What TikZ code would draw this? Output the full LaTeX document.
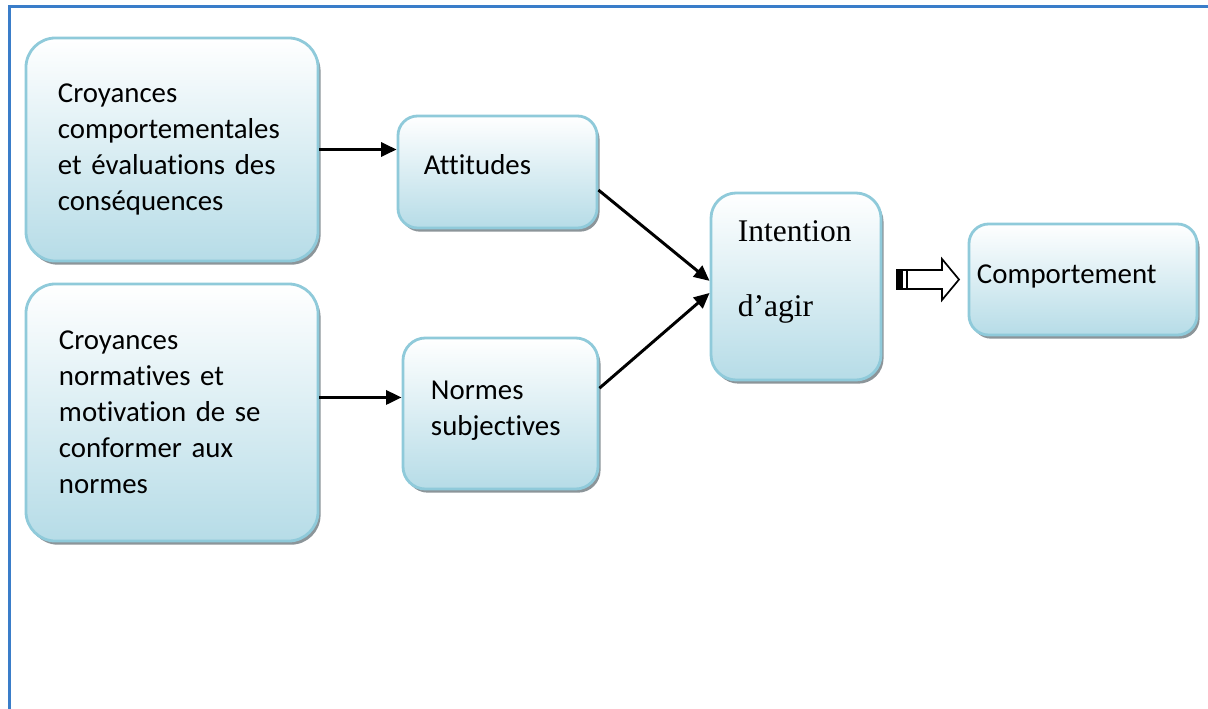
\documentclass[tikz,border=0pt]{standalone}
\usepackage{fontspec}
\setmainfont{Carlito}[Ligatures=CommonOff]
\newfontfamily\timesfont{Liberation Serif}
\usepackage{tikz}
\usetikzlibrary{positioning,arrows.meta,shadows}
\definecolor{boxline}{HTML}{8FCADA}
\definecolor{boxfill}{HTML}{B6DCE7}
\definecolor{framecol}{HTML}{3A7DC9}
\definecolor{shadowcol}{HTML}{6F7A80}

\begin{document}
\begin{tikzpicture}[x=0.025cm,y=-0.025cm,>={Triangle[length=11pt,width=10pt]},
      line width=2.1pt,
      block/.style={rectangle, draw=boxline, line width=2pt, top color=white, bottom color=boxfill,
      align=left, inner xsep=0pt, font=\fontsize{20.5}{25.6}\selectfont,
      drop shadow={shadow xshift=1.8pt, shadow yshift=-2.6pt, fill=shadowcol, opacity=0.8}}]

    \useasboundingbox (0,0) rectangle (1208,709);
    \draw[framecol, line width=2.2pt] (1230,6.5) -- (9.5,6.5) -- (9.5,730);

    \node[block, rounded corners=21pt, minimum width=7.3cm, minimum height=5.575cm, text width=5.7cm] (1) at (172,149.5)
      {Croyances\\comportementales\\et évaluations des\\conséquences};
    \node[block, rounded corners=14pt, minimum width=4.975cm, minimum height=2.8cm, text width=3.675cm] (2) at (497.5,172)
      {Attitudes\par\kern10pt};
    \node[block, rounded corners=21pt, minimum width=7.3cm, minimum height=6.425cm, text width=5.65cm] (3) at (172,412.5)
      {Croyances\\normatives et\\motivation de se\\conformer aux\\normes};
    \node[block, rounded corners=16pt, minimum width=4.875cm, minimum height=3.775cm, text width=3.475cm] (4) at (500.5,413.5)
      {Normes\\subjectives\par\kern4pt};
    \node[block, rounded corners=18pt, minimum width=4.25cm, minimum height=4.675cm, text width=2.9cm,
      font=\timesfont\fontsize{22.4}{53.3}\selectfont] (5) at (796,286.5)
      {Intention\\d’agir\par\kern20pt};
    \node[block, rounded corners=14pt, minimum width=5.7cm, minimum height=2.775cm, text width=5.3cm] (6) at (1083,279.5)
      {Comportement\par\kern4pt};

    \path[->]
    (1.east) edge (1.east -| 2.west)
    ([yshift=10.7pt]3.east) edge ([yshift=10.7pt]3.east -| 4.west)
    ([yshift=-12.8pt]2.east) edge ([yshift=4pt]5.west)
    ([yshift=18pt]4.east) edge ([yshift=-4.6pt]5.west);

    \draw[line width=1.2pt, line join=miter] (897,270) -- (942,270) -- (942,259) -- (959,279.5)
      -- (942,300) -- (942,289) -- (897,289) -- cycle;
    \fill (897,270) rectangle (903,289);
    \draw[line width=0.8pt] (907,270) -- (907,289);
    \end{tikzpicture}
\end{document}
